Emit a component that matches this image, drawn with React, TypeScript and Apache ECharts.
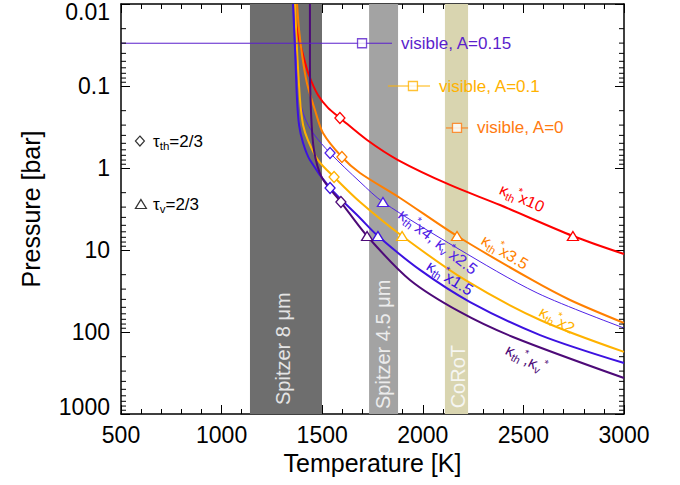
import React, { useEffect, useRef } from "react";
import * as echarts from "echarts";

const T_MIN = 500;
const T_MAX = 3000;
const P_MIN = 0.01;
const P_MAX = 1000;

// T-P profiles [Temperature K, Pressure bar]
const curveKth10 = [[1360, 0.01], [1375, 0.0207], [1405, 0.0419], [1434, 0.0734], [1479, 0.129], [1529, 0.185], [1588, 0.245], [1723, 0.456], [1877, 0.8], [2135, 1.61], [2384, 2.83], [2746, 6.75], [3000, 11.2]];
const curveKth35 = [[1375, 0.01], [1385, 0.0207], [1400, 0.0419], [1424, 0.0918], [1464, 0.196], [1504, 0.374], [1598, 0.735], [1688, 1.15], [1887, 2.32], [2170, 6.75], [2543, 23.2], [2732, 40.7], [3000, 77.6]];
const curveKth4Kv25 = [[1360, 0.01], [1370, 0.0364], [1390, 0.148], [1414, 0.245], [1454, 0.374], [1539, 0.657], [1688, 1.48], [1802, 2.6], [2170, 9.46], [2568, 33.4], [3000, 89.4]];
const curveKth2 = [[1365, 0.01], [1375, 0.0364], [1390, 0.148], [1405, 0.299], [1429, 0.456], [1479, 0.8], [1559, 1.29], [1688, 2.6], [1897, 6.75], [2210, 23.2], [2583, 71.4], [3000, 175]];
const curveKth15 = [[1355, 0.01], [1365, 0.0364], [1375, 0.148], [1385, 0.299], [1405, 0.496], [1439, 0.8], [1539, 1.75], [1688, 4.07], [1777, 6.75], [1986, 17.5], [2235, 43.1], [2583, 109], [3000, 239]];
const curveKth1 = [[1439, 0.01], [1439, 0.0482], [1444, 0.196], [1459, 0.603], [1499, 1.32], [1593, 2.6], [1723, 6.75], [1936, 23.2], [2185, 57.0], [2448, 115], [3000, 364]];

// tau_th = 2/3 (diamond) and tau_v = 2/3 (triangle) points
const marksKth10 = [[1588, 0.245], [2746, 6.75]];
const marksKth35 = [[1598, 0.735], [2170, 6.75]];
const marksKth4Kv25 = [[1539, 0.657], [1802, 2.6]];
const marksKth2 = [[1559, 1.29], [1897, 6.75]];
const marksKth15 = [[1539, 1.75], [1777, 6.75]];
const marksKth1 = [[1593, 2.6], [1723, 6.75]];

// curve labels
const curveLabels = ["κ{s|th}{u|*}x10", "κ{s|th}{u|*}x3.5", "κ{s|th}{u|*}x4, κ{s|v}{u|*}x2.5", "κ{s|th}{u|*}x2", "κ{s|th}{u|*}x1.5", "κ{s|th}{u|*},κ{s|v}{u|*}"];
const curveLabelT = [2493, 2408, 2075, 2667, 2135, 2513];
const curveLabelP = [2.32, 10.6, 7.98, 71.4, 21.9, 213];
const curveLabelAngle = [24, 31, 38, 30, 32, 28];

// visible absorption
const visibleLabels = ["visible, A=0.15", "visible, A=0.1", "visible, A=0"];
const visibleP = [0.0301, 0.1, 0.325];
const visibleTmin = [500, 1827, 2115];
const visibleTmax = [1847, 2036, 2225];
const visibleTsq = [1698, 1951, 2170];

// photometric bands
const bandNames = ["Spitzer 8 μm", "Spitzer 4.5 μm", "CoRoT"];
const bandFrom = [1141, 1733, 2110];
const bandTo = [1499, 1877, 2225];
const bandLabelT = [1306, 1804, 2176];
const bandLabelP = [776, 869, 853];

// key
const keyLabels = ["τ{s|th}=2/3", "τ{s|v}=2/3"];
const keySymbolT = [594, 599];
const keyTextT = [659, 659];
const keyP = [0.469, 2.75];

const FONT = "'Liberation Sans', Arial, Helvetica, sans-serif";

const RED = "#ff0000";
const ORANGE = "#ff7f00";
const AMBER = "#ffb200";
const BLUE = "#3c12e0";
const THINBLUE = "#4f22e6";
const PURPLE = "#4d0a78";
const VIS_COLORS = ["#5a1ecc", AMBER, "#ff7a10"];
const BAND_COLORS = ["#6e6e6e", "#a3a3a3", "#d9d5b0"];
const BAND_TEXT = ["#e4e4e4", "#ececec", "#f6f6f2"];

const curves = [
  { data: curveKth10, marks: marksKth10, color: RED, width: 2 },
  { data: curveKth35, marks: marksKth35, color: ORANGE, width: 2 },
  { data: curveKth4Kv25, marks: marksKth4Kv25, color: THINBLUE, width: 1 },
  { data: curveKth2, marks: marksKth2, color: AMBER, width: 2 },
  { data: curveKth15, marks: marksKth15, color: BLUE, width: 2 },
  { data: curveKth1, marks: marksKth1, color: PURPLE, width: 2 },
];
const curveLabelColors = [RED, ORANGE, THINBLUE, AMBER, BLUE, PURPLE];

const yMinor: number[] = [];
for (let e = -2; e < 3; e++) {
  for (let m = 2; m <= 9; m++) yMinor.push(m * Math.pow(10, e));
}

const richStyles = (size: number, color: string) => ({
  n: { fontSize: size, fontFamily: FONT, color },
  s: { fontSize: size * 0.68, fontFamily: FONT, color, padding: [9, 0, 0, 0] },
  u: { fontSize: size * 0.68, fontFamily: FONT, color, padding: [0, 0, 11, 0] },
});

type Anno = { t: number; p: number; text: string; rot: number; color: string; size: number; align: string; dx: number; rich: boolean };
const annos: Anno[] = [];
curveLabels.forEach((txt, i) =>
  annos.push({ t: curveLabelT[i], p: curveLabelP[i], text: txt, rot: -curveLabelAngle[i], color: curveLabelColors[i], size: 16, align: "center", dx: 0, rich: true })
);
visibleLabels.forEach((txt, i) =>
  annos.push({ t: visibleTmax[i], p: visibleP[i], text: txt, rot: 0, color: VIS_COLORS[i], size: 17, align: "left", dx: 9, rich: false })
);
bandNames.forEach((txt, i) =>
  annos.push({ t: bandLabelT[i], p: bandLabelP[i], text: txt, rot: 90, color: BAND_TEXT[i], size: 20, align: "left", dx: 0, rich: false })
);
keyLabels.forEach((txt, i) =>
  annos.push({ t: keyTextT[i], p: keyP[i], text: txt, rot: 0, color: "#000", size: 17, align: "left", dx: 0, rich: true })
);

const axisCommon = {
  axisLine: { show: true, onZero: false, lineStyle: { color: "#000", width: 1.5 } },
  axisTick: { show: true, inside: true, length: 9, lineStyle: { color: "#000", width: 1 } },
  splitLine: { show: false },
};

const yLabel = (v: number) => {
  const s = String(Number(v.toPrecision(4)));
  if (Math.abs(v - P_MIN) < 1e-9) return "{top|" + s + "}";
  if (Math.abs(v - P_MAX) < 1e-6) return "{bot|" + s + "}";
  return s;
};

export default function App() {
  const ref = useRef<HTMLDivElement>(null);
  useEffect(() => {
    if (!ref.current) return;
    const chart = echarts.init(ref.current, null, { renderer: "svg" });
    const series: any[] = [];

    series.push({
      type: "line",
      data: [],
      z: 1,
      silent: true,
      markArea: {
        silent: true,
        data: bandNames.map((_, i) => [
          { xAxis: bandFrom[i], itemStyle: { color: BAND_COLORS[i], opacity: 1 } },
          { xAxis: bandTo[i] },
        ]),
      },
    });

    series.push({
      type: "custom",
      z: 10,
      silent: true,
      clip: false,
      data: yMinor.map((p) => [T_MIN, p]),
      renderItem: (params: any, api: any) => {
        const p = api.value(1);
        const l = api.coord([T_MIN, p]);
        const r = api.coord([T_MAX, p]);
        return {
          type: "group",
          children: [
            { type: "line", shape: { x1: l[0], y1: l[1], x2: l[0] + 5, y2: l[1] }, style: { stroke: "#000", lineWidth: 1 } },
            { type: "line", shape: { x1: r[0], y1: r[1], x2: r[0] - 5, y2: r[1] }, style: { stroke: "#000", lineWidth: 1 } },
          ],
        };
      },
    });

    curves.forEach((c) => {
      series.push({
        type: "line",
        data: c.data,
        showSymbol: false,
        smooth: 0.3,
        z: 3,
        lineStyle: { color: c.color, width: c.width },
        itemStyle: { color: c.color },
      });
    });
    curves.forEach((c) => {
      series.push({
        type: "scatter",
        z: 5,
        data: [
          { value: c.marks[0], symbol: "diamond", symbolSize: [10, 11] },
          { value: c.marks[1], symbol: "triangle", symbolSize: [11, 9] },
        ],
        itemStyle: { color: "#fff", borderColor: c.color, borderWidth: 1.3, opacity: 1 },
      });
    });

    visibleLabels.forEach((_, i) => {
      series.push({
        type: "line",
        z: 4,
        showSymbol: false,
        data: [[visibleTmin[i], visibleP[i]], [visibleTmax[i], visibleP[i]]],
        lineStyle: { color: VIS_COLORS[i], width: 1 },
      });
      series.push({
        type: "scatter",
        z: 5,
        data: [[visibleTsq[i], visibleP[i]]],
        symbol: "rect",
        symbolSize: 9,
        itemStyle: { color: "#fff", borderColor: VIS_COLORS[i], borderWidth: 1.3 },
      });
    });

    series.push({
      type: "scatter",
      z: 5,
      data: [
        { value: [keySymbolT[0], keyP[0]], symbol: "diamond", symbolSize: [9, 10] },
        { value: [keySymbolT[1], keyP[1]], symbol: "triangle", symbolSize: [11, 9] },
      ],
      itemStyle: { color: "#fff", borderColor: "#000", borderWidth: 1.2 },
    });

    series.push({
      type: "custom",
      z: 8,
      silent: true,
      clip: false,
      data: annos.map((a) => [a.t, a.p]),
      renderItem: (params: any, api: any) => {
        const a = annos[params.dataIndex];
        const pt = api.coord([a.t, a.p]);
        return {
          type: "text",
          x: pt[0] + a.dx,
          y: pt[1],
          rotation: (a.rot * Math.PI) / 180,
          style: {
            text: a.text,
            fill: a.color,
            fontSize: a.size,
            fontFamily: FONT,
            align: a.align,
            verticalAlign: "middle",
            rich: a.rich ? richStyles(a.size, a.color) : undefined,
          },
        };
      },
    });

    const labelStyle = { fontSize: 23, color: "#000", fontFamily: FONT };
    chart.setOption({
      animation: false,
      backgroundColor: "#fff",
      grid: { left: 121, right: 56, top: 4, bottom: 71, containLabel: false, outerBoundsMode: "none" },
      xAxis: [
        {
          type: "value", min: T_MIN, max: T_MAX, interval: 500, position: "bottom",
          name: "Temperature [K]", nameLocation: "middle", nameGap: 33,
          nameTextStyle: { fontSize: 25, color: "#000", fontFamily: FONT },
          axisLabel: { ...labelStyle, margin: 9, showMinLabel: true, showMaxLabel: true, formatter: (v: number) => String(v) },
          minorTick: { show: true, splitNumber: 5, length: 5, lineStyle: { color: "#000", width: 1 } },
          ...axisCommon,
        },
        {
          type: "value", min: T_MIN, max: T_MAX, interval: 500, position: "top",
          axisLabel: { show: false },
          minorTick: { show: true, splitNumber: 5, length: 5, lineStyle: { color: "#000", width: 1 } },
          ...axisCommon,
        },
      ],
      yAxis: [
        {
          type: "log", logBase: 10, min: P_MIN, max: P_MAX, inverse: true, position: "left",
          name: "Pressure [bar]", nameLocation: "middle", nameGap: 78, nameRotate: 90,
          nameTextStyle: { fontSize: 25, color: "#000", fontFamily: FONT },
          axisLabel: {
            ...labelStyle, margin: 11, showMinLabel: true, showMaxLabel: true, formatter: yLabel,
            rich: {
              top: { fontSize: 23, color: "#000", fontFamily: FONT, padding: [16, 0, 0, 0] },
              bot: { fontSize: 23, color: "#000", fontFamily: FONT, padding: [0, 0, 14, 0] },
            },
          },
          ...axisCommon,
        },
        {
          type: "log", logBase: 10, min: P_MIN, max: P_MAX, inverse: true, position: "right",
          axisLabel: { show: false },
          ...axisCommon,
        },
      ],
      series,
    });
    return () => chart.dispose();
  }, []);
  return <div ref={ref} style={{ position: "fixed", left: 0, top: 0, width: 680, height: 485 }} />;
}
